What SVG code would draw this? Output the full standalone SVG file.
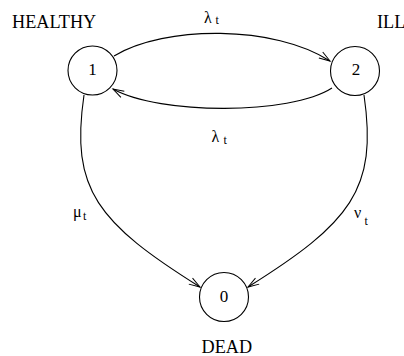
<svg xmlns="http://www.w3.org/2000/svg" width="404" height="356" viewBox="0 0 404 356">
<style>
.node circle{fill:#fff;stroke:#000;stroke-width:1.1}
text{font-family:"Liberation Serif","Times New Roman",serif;fill:#000}
.num{font-size:17px;text-anchor:middle}
.state{font-size:18.2px}
.lbl{font-size:16px}
.sub{font-size:12px}
.edge{fill:none;stroke:#000;stroke-width:1.1;marker-end:url(#arr)}
</style>
<defs>
<marker id="arr" markerUnits="userSpaceOnUse" markerWidth="14" markerHeight="10" refX="12" refY="5" orient="auto" viewBox="0 0 14 10">
<path d="M1,1.5 L12,5 L1,8.5" fill="none" stroke="#000" stroke-width="1"/>
</marker>
</defs>
<rect width="404" height="356" fill="#fff"/>
<g id="connectors">
<path class="edge" d="M114,56 C165,25 275,25 330,61"/>
<path class="edge" d="M332,88 C290,115 160,115 113,89"/>
<path class="edge" d="M84,95 C70,190 98,223 200,287"/>
<path class="edge" d="M364,95 C378,190 350,223 248,287"/>
</g>
<g id="node1" class="node">
<circle cx="92.5" cy="70.5" r="24.5"/>
<text class="num" x="92.5" y="74.5">1</text>
</g>
<g id="node2" class="node">
<circle cx="355" cy="71" r="24.5"/>
<text class="num" x="356" y="74.5">2</text>
</g>
<g id="node0" class="node">
<circle cx="224" cy="297" r="24.5"/>
<text class="num" x="224" y="301.5">0</text>
</g>
<g id="labels">
<text class="state" x="12" y="28">HEALTHY</text>
<text class="state" x="377" y="28">ILL</text>
<text class="state" x="201.5" y="353">DEAD</text>
<text class="lbl" x="204" y="22.5">λ<tspan class="sub" x="215.5" y="24">t</tspan></text>
<text class="lbl" x="211.5" y="141.5">λ<tspan class="sub" x="223.5" y="143.5">t</tspan></text>
<text class="lbl" x="73" y="217">μ<tspan class="sub" x="83" y="220">t</tspan></text>
<text class="lbl" x="354" y="218">ν<tspan class="sub" x="364.5" y="225">t</tspan></text>
</g>
</svg>
